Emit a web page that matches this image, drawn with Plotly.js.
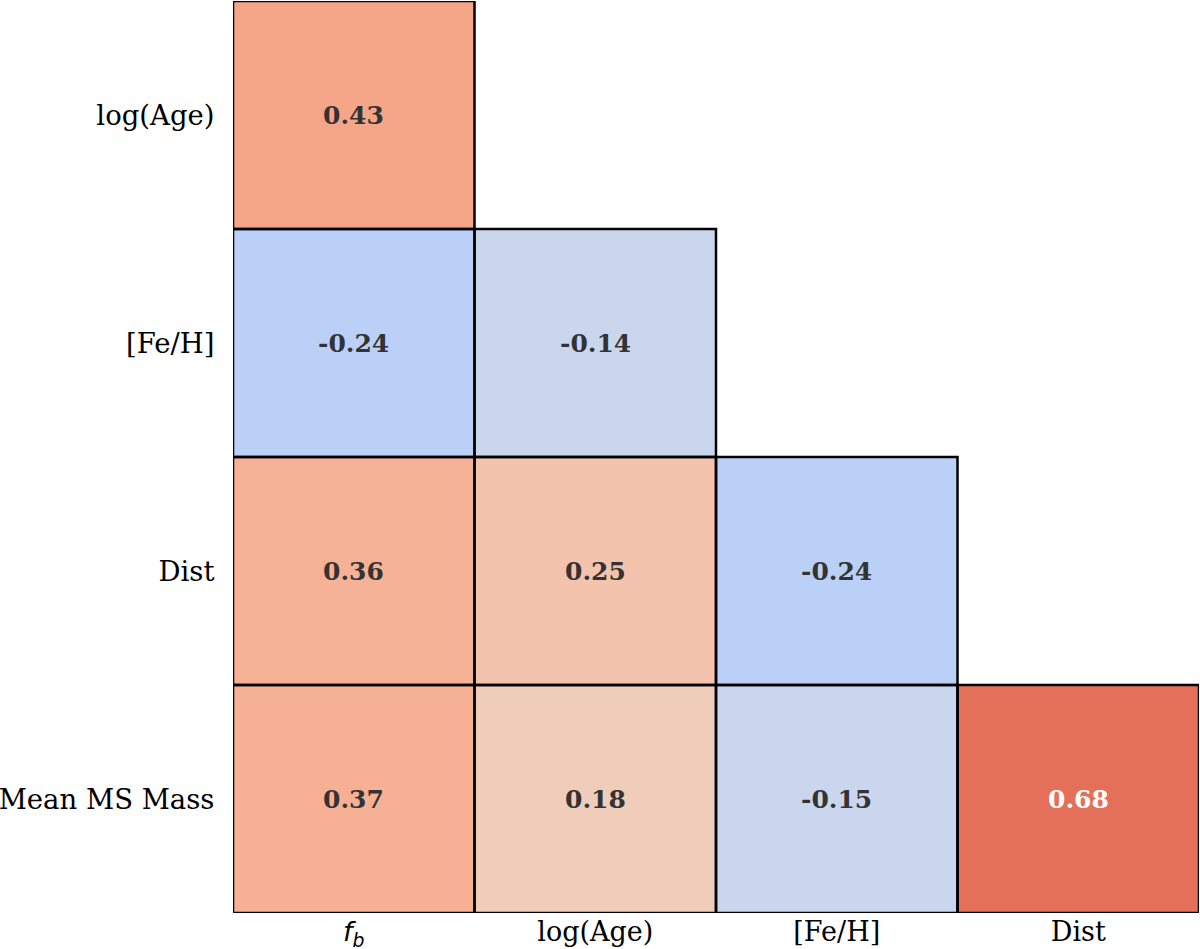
<!DOCTYPE html>
<html>
<head>
<meta charset="utf-8">
<script src="https://cdn.plot.ly/plotly-3.0.1.min.js"></script>
<style>html,body{margin:0;padding:0;background:#fff;}</style>
</head>
<body>
<div id="chart" style="width:1200px;height:949px;"></div>
<script>
const xLabels = ['<span style="font-family:DejaVu Sans"><i>f</i><sub><i>b</i></sub></span>', 'log(Age)', '[Fe/H]', 'Dist'];
const yLabels = ['log(Age)', '[Fe/H]', 'Dist', 'Mean MS Mass'];
const rowLogAge = [0.43, null, null, null];
const rowFeH    = [-0.24, -0.14, null, null];
const rowDist   = [0.36, 0.25, -0.24, null];
const rowMass   = [0.37, 0.18, -0.15, 0.68];
const z = [rowLogAge, rowFeH, rowDist, rowMass];

const coolwarm = [
  [0.0, '#3b4cc0'], [0.1, '#5977e3'], [0.2, '#7b9ff9'], [0.3, '#9ebeff'],
  [0.4, '#c2d4f4'], [0.5, '#dddcdc'], [0.6, '#f2cbb7'], [0.7, '#f7ac8e'],
  [0.8, '#ee8468'], [0.9, '#d65244'], [1.0, '#b40426']
];

const xi = xLabels.map((_, i) => i);
const yi = yLabels.map((_, i) => i);

const shapes = [];
const annotations = [];
z.forEach((row, r) => {
  row.forEach((v, c) => {
    if (v === null) return;
    shapes.push({type: 'rect', xref: 'x', yref: 'y', x0: c - 0.5, x1: c + 0.5, y0: r - 0.5, y1: r + 0.5,
      line: {color: '#000000', width: 2.5}, fillcolor: 'rgba(0,0,0,0)', layer: 'above'});
    annotations.push({x: c, y: r, xref: 'x', yref: 'y', text: '<b>' + v.toFixed(2) + '</b>', showarrow: false,
      font: {family: 'DejaVu Serif', size: 25, color: Math.abs(v) > 0.5 ? '#ffffff' : '#333333'}});
  });
});

const trace = {
  type: 'heatmap', x: xi, y: yi, z: z, zmin: -1, zmax: 1,
  colorscale: coolwarm, showscale: false, hoverongaps: false
};

const layout = {
  width: 1200, height: 949,
  margin: {l: 233, r: 1, t: 1, b: 36},
  paper_bgcolor: '#ffffff', plot_bgcolor: '#ffffff',
  font: {family: 'DejaVu Serif', size: 27, color: '#000000'},
  xaxis: {tickmode: 'array', tickvals: xi, ticktext: xLabels, range: [-0.5, 3.5],
    showgrid: false, zeroline: false, showline: false, ticks: '', ticklen: 0,
    tickfont: {family: 'DejaVu Serif', size: 27, color: '#000'}},
  yaxis: {tickmode: 'array', tickvals: yi, ticktext: yLabels, range: [3.5, -0.5],
    showgrid: false, zeroline: false, showline: false, ticks: 'outside', ticklen: 12, tickcolor: 'rgba(0,0,0,0)',
    tickfont: {family: 'DejaVu Serif', size: 27.5, color: '#000'}},
  shapes: shapes,
  annotations: annotations
};

Plotly.newPlot('chart', [trace], layout, {staticPlot: true, displayModeBar: false});
</script>
</body>
</html>
